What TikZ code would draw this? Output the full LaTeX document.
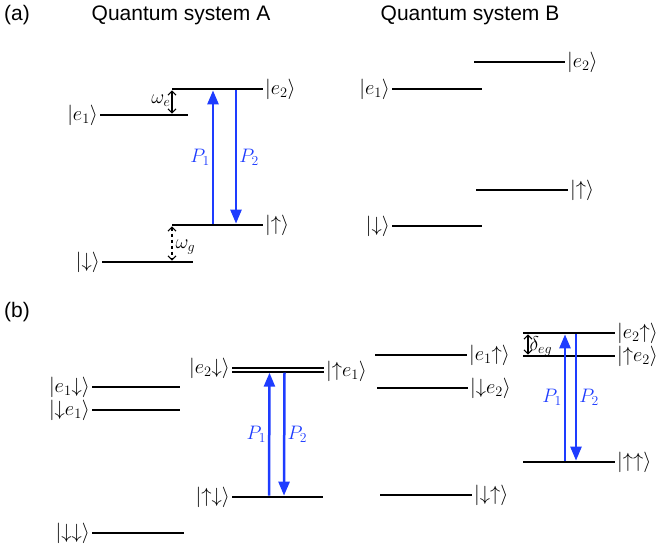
\RequirePackage{fix-cm}
\documentclass[tikz,border=0pt]{standalone}
\usepackage{amsmath}
\usepackage{fontspec}
\usepackage{tikz}
\usetikzlibrary{arrows.meta,calc}
\newfontfamily\headfont{Liberation Sans}
\definecolor{PumpBlue}{HTML}{1E3CFF}
\newcommand{\kt}[1]{\lvert #1\rangle}
\newcommand{\up}{{\uparrow}}
\newcommand{\dn}{{\downarrow}}

\begin{document}
\begin{tikzpicture}[
  x=1pt,y=-1pt,
  lev/.style={fill=black,inner sep=0pt,outer sep=0pt,minimum height=2.7pt,minimum width=#1},
  klbl/.style={font=\fontsize{20.5}{23}\selectfont,inner xsep=2pt,inner ysep=0pt},
  head/.style={font=\headfont\fontsize{21}{25}\selectfont},
  pump/.style={line width=2.5pt,PumpBlue,-{Triangle[length=14pt,width=11pt]}},
  plbl/.style={font=\fontsize{19.5}{22}\selectfont,text=PumpBlue,inner sep=2pt},
  gap/.style={line width=1.1pt,{Straight Barb[length=4pt,width=8pt]}-{Straight Barb[length=4pt,width=8pt]}},
  glbl/.style={font=\fontsize{20}{22}\selectfont,inner sep=1pt}
]
  \useasboundingbox (0,0) rectangle (661,550);

  % headings
  \node[head] (taga) at (17,15) {(a)};
  \node[head] (titA) at (181,15) {Quantum system A};
  \node[head] (titB) at (470,15) {Quantum system B};
  \node[head] (tagb) at (17,312) {(b)};

  % (a) system A
  \node[lev=91, label={[klbl]right:$\kt{e_2}$}] (Ae2) at (217.5,89) {};
  \node[lev=88, label={[klbl]left:$\kt{e_1}$}] (Ae1) at (144,115) {};
  \node[lev=91, label={[klbl]right:$\kt{\up}$}] (Aup) at (217.5,225) {};
  \node[lev=91, label={[klbl]left:$\kt{\dn}$}] (Adn) at (147.5,262) {};

  \draw[gap] (Ae2.south west) -- (Ae2.south west |- Ae1.north)
    node[glbl,left,midway,yshift=1pt] (we) {$\omega_e$};
  \draw[gap,dashed] (Aup.south west) -- (Aup.south west |- Adn.north)
    node[glbl,right,pos=0.6,xshift=2pt] (wg) {$\omega_g$};

  \draw[pump] ([xshift=-4.5pt]Aup.north) -- ([xshift=-4.5pt]Ae2.south)
    node[plbl,left,midway] (pa1) {$P_1$};
  \draw[pump] ([xshift=18.5pt]Ae2.south) -- ([xshift=18.5pt]Aup.north)
    node[plbl,right,midway] (pa2) {$P_2$};

  % (a) system B
  \node[lev=91, label={[klbl]right:$\kt{e_2}$}] (Be2) at (519.5,62) {};
  \node[lev=90, label={[klbl]left:$\kt{e_1}$}] (Be1) at (437,89) {};
  \node[lev=92, label={[klbl]right:$\kt{\up}$}] (Bup) at (522,190) {};
  \node[lev=90, label={[klbl]left:$\kt{\dn}$}] (Bdn) at (437,226) {};

  % (b) left column
  \node[lev=88, label={[klbl]left:$\kt{e_1\dn}$}] (Le1dn) at (136,387) {};
  \node[lev=88, label={[klbl]left:$\kt{\dn e_1}$}] (Ldne1) at (136,410) {};
  \node[lev=92, label={[klbl]left:$\kt{\dn\dn}$}] (Ldd) at (138,533) {};

  % (b) middle column
  \node[lev=92, minimum height=2.2pt, label={[klbl]left:$\kt{e_2\dn}$}] (Me2dn) at (278,368) {};
  \node[lev=92, minimum height=2.2pt, label={[klbl]right:$\kt{\up e_1}$}] (Mupe1) at (278,371.6) {};
  \node[lev=91, label={[klbl]left:$\kt{\up\dn}$}] (Mud) at (277.5,497) {};

  \draw[pump] ([xshift=-8.5pt]Mud.north) -- ([xshift=-8.5pt]Mupe1.south)
    node[plbl,left,midway] (pb1) {$P_1$};
  \draw[pump] ([xshift=6.5pt]Mupe1.south) -- ([xshift=6.5pt]Mud.north)
    node[plbl,right,midway] (pb2) {$P_2$};

  % (b) right-middle column
  \node[lev=92, label={[klbl]right:$\kt{e_1\up}$}] (Ne1up) at (421,355) {};
  \node[lev=91, label={[klbl]right:$\kt{\dn e_2}$}] (Ndne2) at (422.5,388) {};
  \node[lev=92, label={[klbl]right:$\kt{\dn\up}$}] (Ndu) at (426,495) {};

  % (b) right column
  \node[lev=92, label={[klbl]right:$\kt{e_2\up}$}] (Re2up) at (569,333) {};
  \node[lev=92, label={[klbl]right:$\kt{\up e_2}$}] (Rupe2) at (569,356) {};
  \node[lev=92, label={[klbl]right:$\kt{\up\up}$}] (Ruu) at (569,462) {};

  \draw[gap] ([xshift=5pt]Re2up.south west) -- ([xshift=5pt]Re2up.south west |- Rupe2.north)
    node[glbl,right,pos=0.6] (deg) {$\delta_{eg}$};

  \draw[pump] ([xshift=-4pt]Ruu.north) -- ([xshift=-4pt]Re2up.south)
    node[plbl,left,midway] (pc1) {$P_1$};
  \draw[pump] ([xshift=7pt]Re2up.south) -- ([xshift=7pt]Ruu.north)
    node[plbl,right,midway] (pc2) {$P_2$};
\end{tikzpicture}
\end{document}
